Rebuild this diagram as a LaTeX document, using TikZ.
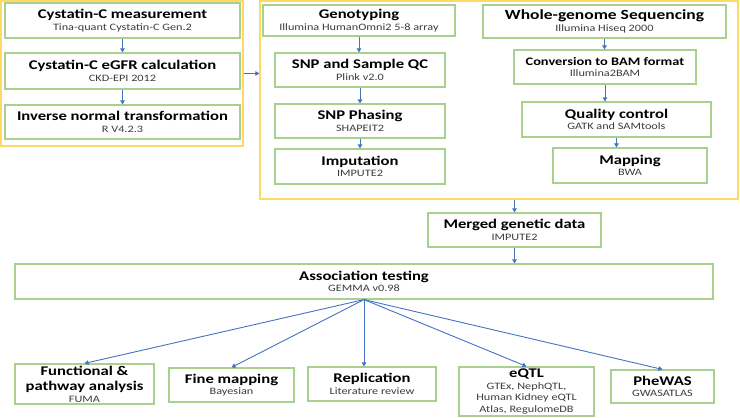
\documentclass[tikz,border=0pt]{standalone}
\usepackage{fontspec}
\setmainfont{Carlito}[FakeStretch=1.25]
\usetikzlibrary{arrows.meta, positioning}
\definecolor{leaf_green}{RGB}{169, 209, 142}
\definecolor{sun_yellow}{RGB}{255, 217, 102}
\definecolor{link_blue}{RGB}{68, 114, 196}
\definecolor{tool_gray}{RGB}{60, 60, 60}
\def \stagename #1{{\fontsize{13.3}{11.5}\selectfont\bfseries #1}}
\def \toolname #1{{\color{tool_gray}#1}}

\begin{document}
\begin{tikzpicture}[
    x=1pt, y=-1pt,
    stage/.style={
        rectangle,
        draw=leaf_green,
        fill=white,
        line width=1.2pt,
        minimum width=#1,
        align=center,
        inner sep=1pt,
        font=\fontsize{9.8}{11.5}\selectfont
    },
    panel/.style={
        rectangle,
        draw=sun_yellow,
        line width=1.2pt
    },
    arrow/.style={
        -{Triangle[length=4pt, width=4.5pt]},
        line width=0.9pt,
        draw=link_blue
    }
]
\useasboundingbox (0,0) rectangle (740,418);

% yellow panels
\node[panel, minimum width=242, minimum height=145] (clinical) at (122,73.5) {};
\node[panel, minimum width=478, minimum height=198] (genetic) at (499,100) {};

% phenotype side
\node[stage=235, minimum height=35] (measure) at (122.5,20.5) {\stagename{Cystatin-C measurement}\\\toolname{Tina-quant Cystatin-C Gen.2}};
\node[stage=235, minimum height=36] (egfr) at (122.5,71) {\stagename{Cystatin-C eGFR calculation}\\\toolname{CKD-EPI 2012}};
\node[stage=235, minimum height=34] (invnorm) at (122.5,122) {\stagename{Inverse normal transformation}\\\toolname{R V4.2.3}};

% array genotyping
\node[stage=192, minimum height=31] (genotype) at (359,20.5) {\stagename{Genotyping}\\\toolname{Illumina HumanOmni2 5-8 array}};
\node[stage=170, minimum height=34] (snpqc) at (360,70) {\stagename{SNP and Sample QC}\\\toolname{Plink v2.0}};
\node[stage=170, minimum height=34] (phasing) at (360,121) {\stagename{SNP Phasing}\\\toolname{SHAPEIT2}};
\node[stage=170, minimum height=35] (impute) at (360,166.5) {\stagename{Imputation}\\\toolname{IMPUTE2}};

% sequencing
\node[stage=243, minimum height=33] (wgs) at (604.5,21.5) {{\fontsize{14}{11.5}\selectfont\bfseries Whole-genome Sequencing}\\\toolname{Illumina Hiseq 2000}};
\node[stage=182, minimum height=34] (tobam) at (605,67) {{\fontsize{11.5}{11.5}\selectfont\bfseries Conversion to BAM format}\\\toolname{Illumina2BAM}};
\node[stage=189, minimum height=35] (seqqc) at (616.5,119.5) {\stagename{Quality control}\\\toolname{GATK and SAMtools}};
\node[stage=154, minimum height=35] (mapping) at (630,165.5) {\stagename{Mapping}\\\toolname{BWA}};

% merge and test
\node[stage=173, minimum height=34] (merged) at (514.5,230) {\stagename{Merged genetic data}\\\toolname{IMPUTE2}};
\node[stage=698, minimum height=35] (assoc) at (364,281.5) {\stagename{Association testing}\\\toolname{GEMMA v0.98}};

% follow-up
\node[stage=139, minimum height=40] (funct) at (84.5,384) {\stagename{Functional \&}\\[4pt]\stagename{pathway analysis}\\\toolname{FUMA}};
\node[stage=125, minimum height=34] (finemap) at (231.5,385) {\stagename{Fine mapping}\\\toolname{Bayesian}};
\node[stage=128, minimum height=34] (replic) at (372,384) {\stagename{Replication}\\\toolname{Literature review}};
\node[stage=135, minimum height=49] (eqtl) at (526.5,391.5) {\stagename{eQTL}\\\toolname{GTEx, NephQTL,}\\\toolname{Human Kidney eQTL}\\\toolname{Atlas, RegulomeDB}};
\node[stage=103, minimum height=33] (phewas) at (662.5,386.5) {\stagename{PheWAS}\\\toolname{GWASATLAS}};

% arrows
\draw[arrow] (measure) -- (egfr);
\draw[arrow] (egfr) -- (invnorm);
\draw[arrow] (clinical.east) -- (clinical.east -| genetic.west);
\draw[arrow] (genotype.south) -- (genotype.south |- snpqc.north);
\draw[arrow] (snpqc) -- (phasing);
\draw[arrow] (phasing) -- (impute);
\draw[arrow] (wgs.south) -- (wgs.south |- tobam.north);
\draw[arrow] (tobam.south) -- (tobam.south |- seqqc.north);
\draw[arrow] (seqqc.south) -- (seqqc.south |- mapping.north);
\draw[arrow] (merged.north |- genetic.south) -- (merged.north);
\draw[arrow] (merged.south) -- (merged.south |- assoc.north);
\draw[arrow] (assoc.south) -- (assoc.south |- replic.north);
\foreach \goal in {funct, finemap, eqtl, phewas}
    \draw[arrow] (assoc.south) -- (\goal.north);

\end{tikzpicture}
\end{document}
